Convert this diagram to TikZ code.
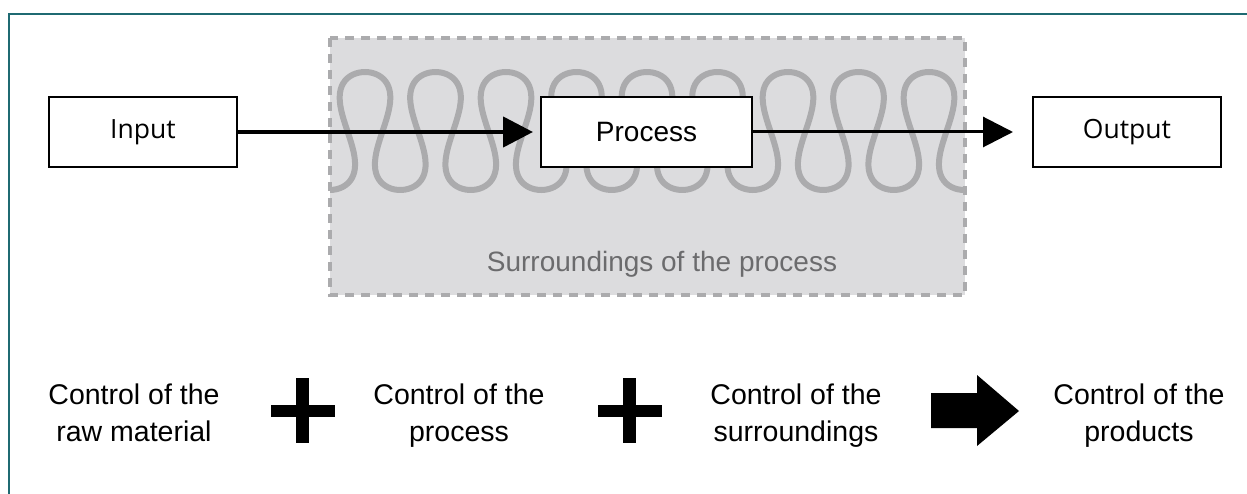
\documentclass[tikz,border=0pt]{standalone}
\usepackage{fontspec}
\setmainfont{Liberation Sans}
\newfontfamily\boxfont{Open Sans}
\usetikzlibrary{arrows.meta}
\definecolor{frameteal}{HTML}{1F6A72}
\definecolor{surrfill}{HTML}{DCDCDE}
\definecolor{surrline}{HTML}{ABABAD}
\definecolor{surrtext}{HTML}{6B6B6D}
\tikzset{
  iobox/.style={draw=black, line width=2pt, fill=white, minimum width=188pt, minimum height=70pt, inner sep=0pt, font=\boxfont\fontsize{26.5}{30}\selectfont},
  procbox/.style={draw=black, line width=2pt, fill=white, minimum width=211pt, minimum height=70pt, inner sep=0pt, font=\fontsize{28}{32}\selectfont},
  ctrltext/.style={align=center, inner sep=0pt, font=\fontsize{28.5}{37}\selectfont},
  flowarrow/.style={-{Triangle[length=30pt,width=30pt]}, black},
  symbfill/.style={fill=black, draw=none}
}
\begin{document}
\begin{tikzpicture}[x=1pt,y=-1pt]
\useasboundingbox (0,0) rectangle (1247,494);
% frame
\draw[frameteal, line width=1.5pt] (1247,14) -- (9,14) -- (9,494);
% surroundings region
\fill[surrfill] (330,38) rectangle (965,295);
\begin{scope}
\clip (330,38) rectangle (965,295);
\draw[surrline, line width=6pt] plot[domain=-180:3060, samples=700, variable=\t]
  ({365 + 70.5*(\t/360) + 15.5*sin(2*\t)}, {131 - 59*cos(\t)});
\end{scope}
\draw[surrline, line width=4pt, dash pattern=on 9pt off 7pt] (330,38) rectangle (965,295);
\node[font=\fontsize{28}{32}\selectfont, text=surrtext, anchor=base] (surr) at (662,272) {Surroundings of the process};
% boxes
\node[iobox] (input) at (143,132) {Input};
\node[procbox] (process) at (646.5,132) {Process};
\node[iobox] (output) at (1127,132) {Output};
\draw[flowarrow, line width=4.5pt, shorten >=7pt] (input.east) -- (process.west);
\draw[flowarrow, line width=3pt, shorten >=19pt] (process.east) -- (output.west);
% bottom row (base anchor = baseline of the last line)
\node[ctrltext, anchor=base] (c1) at (134,441) {Control of the\\raw material};
\node[ctrltext, anchor=base] (c2) at (459,441) {Control of the\\process};
\node[ctrltext, anchor=base] (c3) at (796,441) {Control of the\\surroundings};
\node[ctrltext, anchor=base] (c4) at (1139,441) {Control of the\\products};
% plus signs
\fill[symbfill] (296,378) rectangle (309,443);
\fill[symbfill] (271,405) rectangle (335,417);
\fill[symbfill] (623,378) rectangle (636,443);
\fill[symbfill] (598,405) rectangle (662,417);
% block arrow
\fill[symbfill] (931,393) -- (977,393) -- (977,375) -- (1019,411) -- (977,446) -- (977,428) -- (931,428) -- cycle;
\end{tikzpicture}
\end{document}
